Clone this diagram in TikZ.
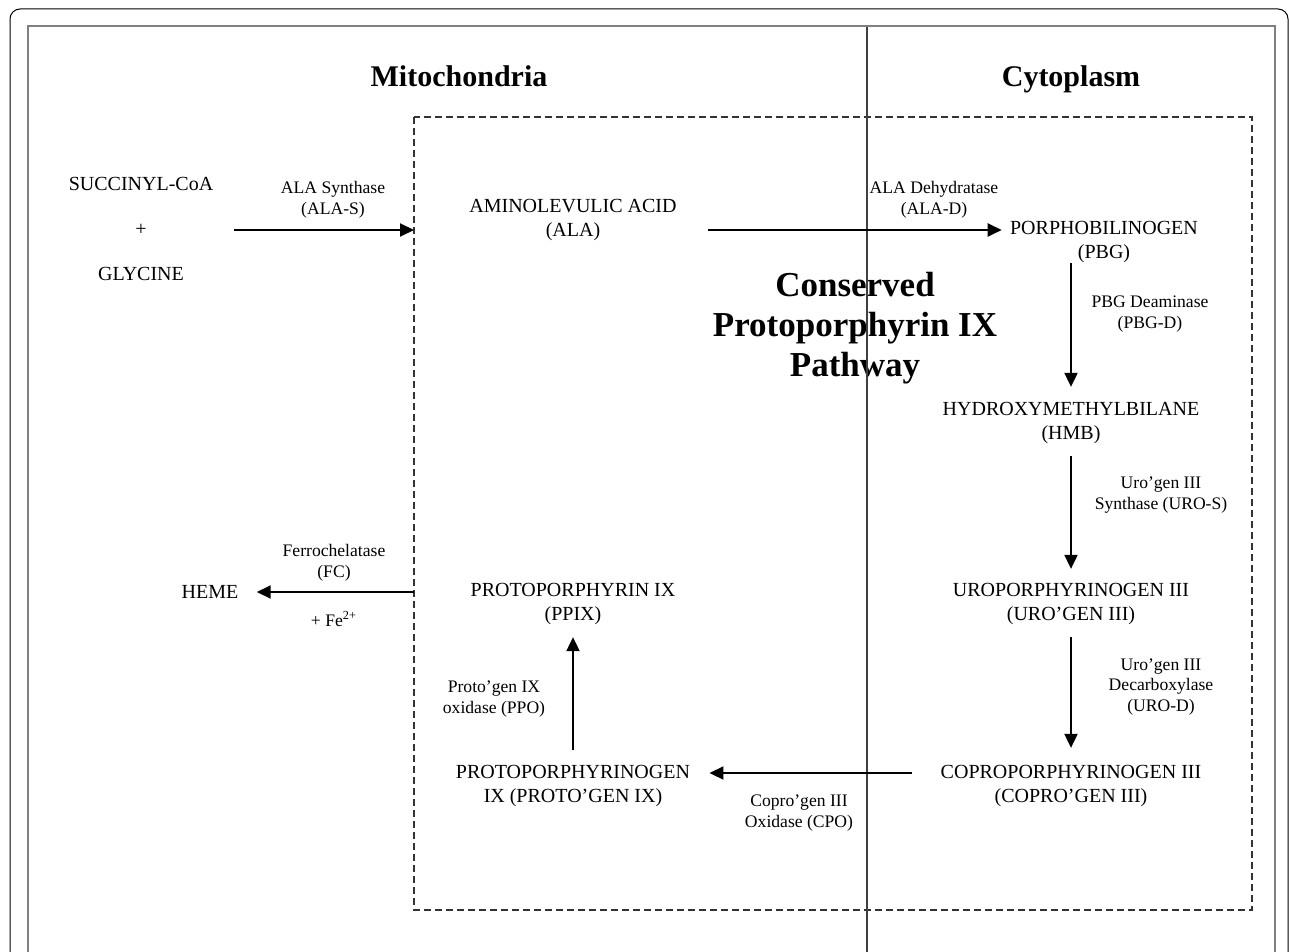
\documentclass[tikz,border=0pt]{standalone}
\usepackage{fontspec}
\setmainfont{Liberation Serif}
\usetikzlibrary{arrows.meta,calc}

\begin{document}
\begin{tikzpicture}[x=0.5pt, y=-0.5pt,
  met/.style={align=center, inner sep=0pt, font=\fontsize{10}{12}\selectfont},
  enz/.style={align=center, inner sep=0pt, font=\fontsize{8.8}{10.3}\selectfont},
  compart/.style={inner sep=0pt, font=\fontsize{15}{18}\selectfont\bfseries},
  arr/.style={-{Triangle[length=7pt,width=6.5pt]}, line width=1pt}]
  \clip (0,0) rectangle (1290,952);
  % frames
  \draw[line width=0.5pt, rounded corners=5pt] (10,9) rectangle (1288,1010);
  \draw[gray, line width=1pt] (28,960) -- (28,26) -- (1275,26) -- (1275,960);
  \coordinate (boxnw) at (414,117);
  \coordinate (boxse) at (1252,910);
  \draw[black!80, line width=1pt, dash pattern=on 3.5pt off 2pt] (boxnw) rectangle (boxse);

  \node[compart] (mito) at (459,76) {Mitochondria};
  \node[compart] (cyto) at (1071,79) {Cytoplasm};
  \node[compart, align=center, font=\fontsize{17.5}{20}\selectfont\bfseries] (cpp) at (855,328)
    {Conserved\\Protoporphyrin IX\\Pathway};
  \draw[black!75, line width=0.6pt] (867,27) -- (867,952);

  % metabolites
  \foreach \n/\x/\y/\t in {succ/141/184/{SUCCINYL-CoA}, plus/141/230/+, gly/141/274/GLYCINE,
    ala/573/220/{AMINOLEVULIC ACID\\(ALA)}, pbg/1104/242/{PORPHOBILINOGEN\\(PBG)},
    hmb/1071/423/{HYDROXYMETHYLBILANE\\(HMB)}, uro/1071/604/{UROPORPHYRINOGEN III\\(URO'GEN III)},
    copro/1071/786/{COPROPORPHYRINOGEN III\\(COPRO'GEN III)},
    protogen/573/786/{PROTOPORPHYRINOGEN\\IX (PROTO'GEN IX)},
    ppix/573/604/{PROTOPORPHYRIN IX\\(PPIX)}, heme/210/592/HEME}
    \node[met] (\n) at (\x,\y) {\t};

  % enzymes
  \foreach \n/\x/\y/\t in {alas/333/200/{ALA Synthase\\(ALA-S)}, alad/934/200/{ALA Dehydratase\\(ALA-D)},
    pbgd/1150/314/{PBG Deaminase\\(PBG-D)}, uros/1161/495/{Uro'gen III\\Synthase (URO-S)},
    urod/1161/687/{Uro'gen III\\Decarboxylase\\(URO-D)}, cpo/799/813/{Copro'gen III\\Oxidase (CPO)},
    ppo/494/699/{Proto'gen IX\\oxidase (PPO)}, fc/334/563/{Ferrochelatase\\(FC)},
    fe/334/619/{+ Fe\textsuperscript{2+}}}
    \node[enz] (\n) at (\x,\y) {\t};

  \path ($(ala.east)+(31,10)$) coordinate (alaout);
  \path ($(copro.west)+(-28,-13)$) coordinate (coprout);
  \draw[arr] ($(plus.east)+(87,0)$) -- (boxnw |- plus);
  \draw[arr] (alaout) -- ($(pbg.west |- alaout)+(-8,0)$);
  \draw[arr] (hmb |- pbg.south) -- ($(hmb.north)+(0,-15)$);
  \draw[arr] ($(hmb.south)+(0,12)$) -- ($(uro.north)+(0,-14)$);
  \draw[arr] ($(uro.south)+(0,12)$) -- ($(copro.north)+(0,-17)$);
  \draw[arr] (coprout) -- ($(protogen.east |- coprout)+(19,0)$);
  \draw[arr] ($(protogen.north)+(0,-15)$) -- ($(ppix.south)+(0,12)$);
  \draw[arr] (boxnw |- heme) -- ($(heme.east)+(18,0)$);
\end{tikzpicture}
\end{document}
